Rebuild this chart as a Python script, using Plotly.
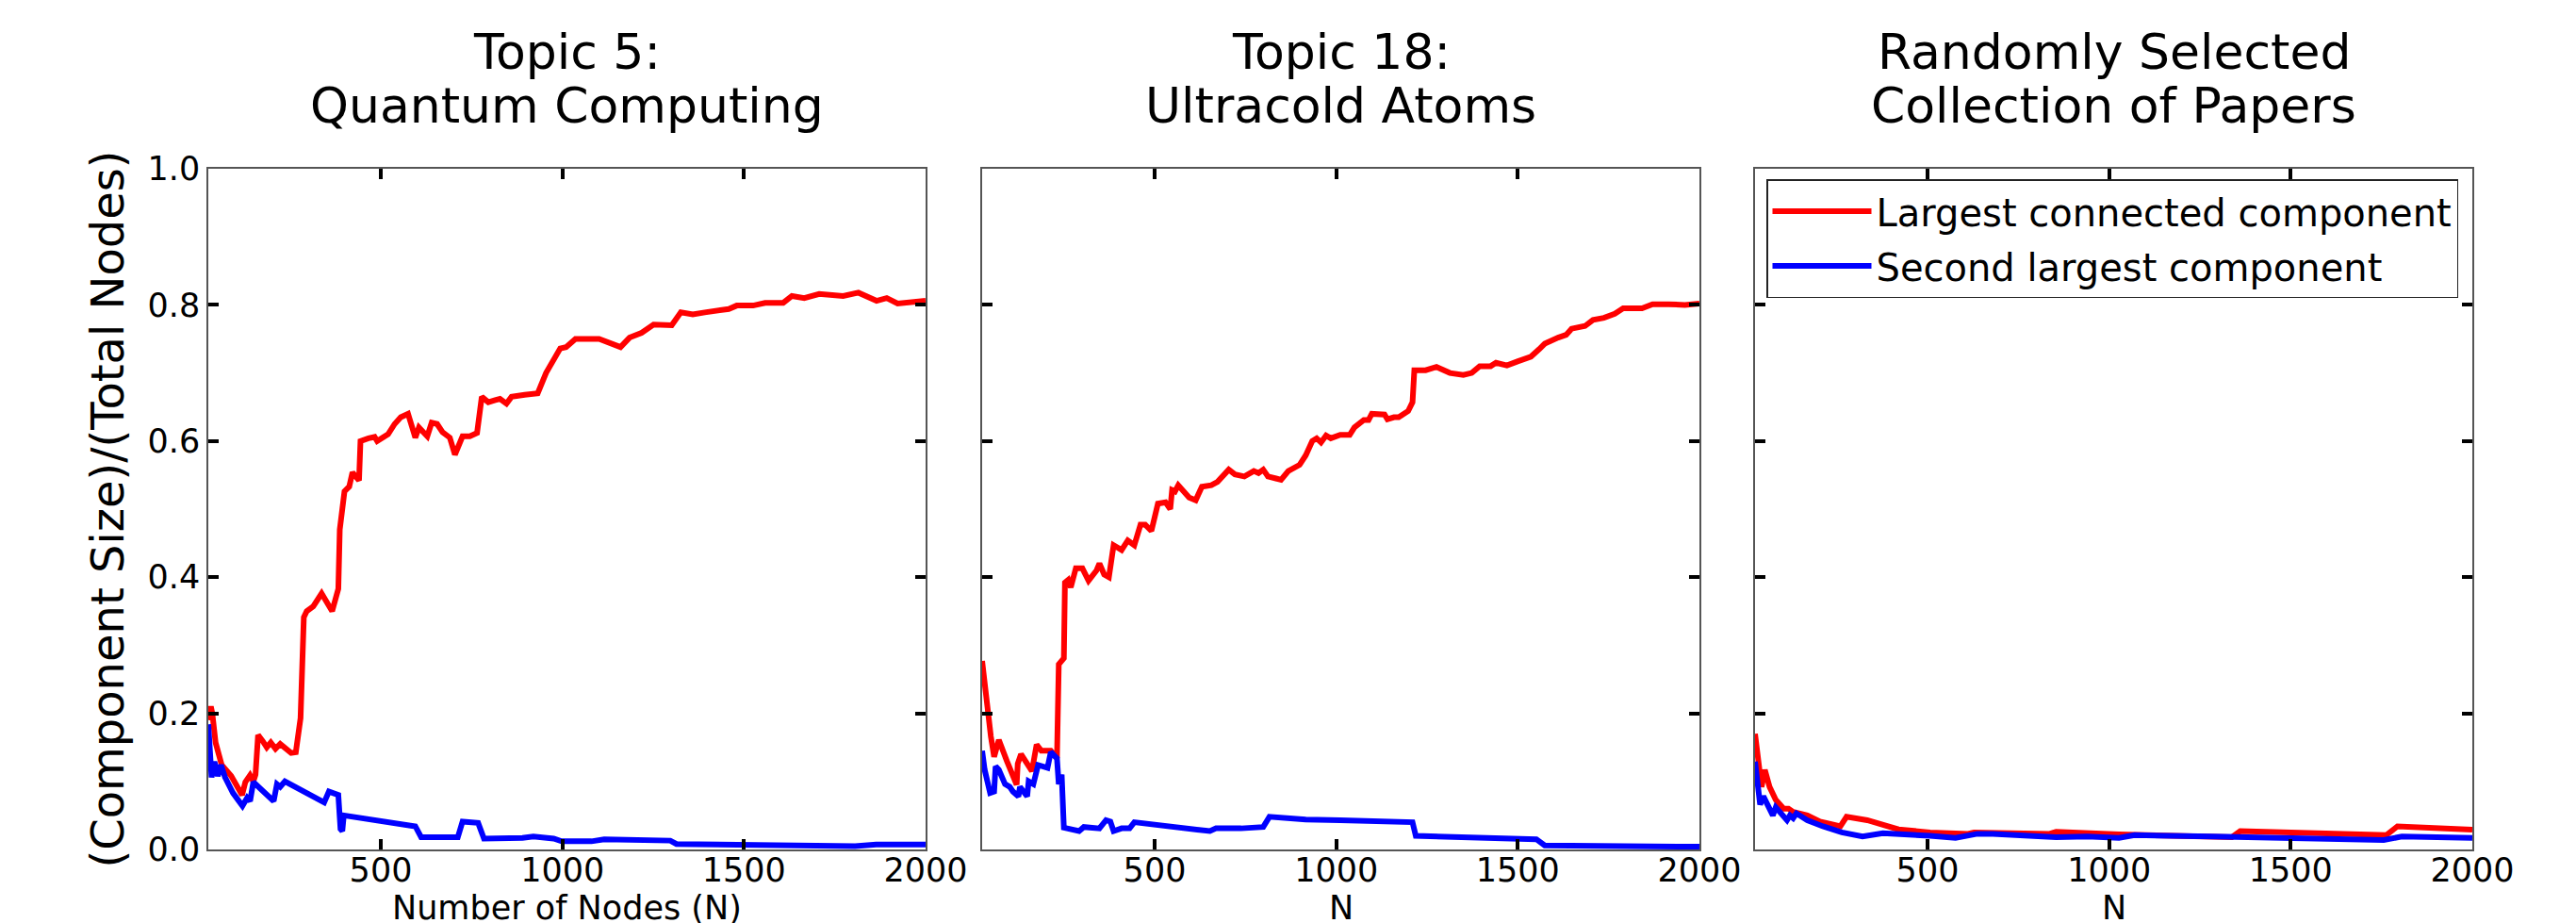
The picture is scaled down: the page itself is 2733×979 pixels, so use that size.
import plotly.graph_objects as go

# ---------------- data ----------------
# Topic 5: Quantum Computing
t5_n_largest = [25, 32, 36, 45, 62, 88, 118, 127, 140, 149, 155, 162, 175, 186, 197, 210, 223, 240, 253, 266,
                279, 288, 296, 314, 337, 366, 383, 387, 392, 400, 413, 422, 440, 444, 466, 483, 490, 520, 538, 555,
                575, 585, 595, 605, 615, 628, 640, 655, 670, 690, 704, 712, 725, 745, 765, 778, 796, 815, 828, 846,
                860, 896, 932, 955, 978, 994, 1010, 1036, 1101, 1135, 1160, 1185, 1218, 1251, 1301, 1326, 1359,
                1392, 1458, 1480, 1525, 1558, 1608, 1632, 1666, 1707, 1773, 1815, 1865, 1893, 1923, 2000]
t5_largest = [0.19, 0.21, 0.20, 0.157, 0.124, 0.108, 0.080, 0.099, 0.109, 0.100, 0.110, 0.168, 0.159, 0.150,
              0.157, 0.148, 0.155, 0.146, 0.142, 0.143, 0.193, 0.341, 0.350, 0.357, 0.376, 0.350, 0.383, 0.470,
              0.498, 0.526, 0.533, 0.554, 0.542, 0.600, 0.604, 0.606, 0.600, 0.610, 0.625, 0.635, 0.640, 0.625,
              0.605, 0.620, 0.615, 0.607, 0.627, 0.625, 0.613, 0.605, 0.580, 0.592, 0.607, 0.607, 0.612, 0.665,
              0.657, 0.660, 0.662, 0.655, 0.665, 0.668, 0.670, 0.700, 0.720, 0.736, 0.738, 0.750, 0.750, 0.743,
              0.738, 0.752, 0.759, 0.771, 0.770, 0.789, 0.786, 0.789, 0.794, 0.799, 0.799, 0.803, 0.803, 0.813,
              0.810, 0.816, 0.813, 0.818, 0.806, 0.810, 0.802, 0.806]
t5_n_second = [25, 34, 42, 51, 60, 71, 93, 119, 132, 140, 149, 205, 214, 223, 236, 292, 344, 357, 383, 389, 394,
               398, 595, 611, 660, 673, 712, 725, 768, 784, 864, 890, 920, 976, 998, 1080, 1115, 1297, 1314, 1598,
               1806, 1864, 2000]
t5_second = [0.184, 0.106, 0.129, 0.108, 0.124, 0.106, 0.083, 0.064, 0.076, 0.071, 0.099, 0.071, 0.096, 0.092,
             0.100, 0.083, 0.069, 0.085, 0.080, 0.030, 0.027, 0.050, 0.034, 0.018, 0.018, 0.020, 0.018, 0.041,
             0.039, 0.016, 0.016, 0.017, 0.019, 0.016, 0.012, 0.012, 0.015, 0.013, 0.008, 0.0074, 0.005, 0.0074,
             0.0074]

# Topic 18: Ultracold Atoms
t18_n_largest = [25, 36, 49, 58, 71, 93, 114, 120, 123, 132, 162, 175, 188, 214, 231, 236, 250, 253, 262, 269,
                 283, 301, 318, 340, 348, 361, 374, 387, 409, 426, 444, 461, 474, 491, 509, 530, 543, 548, 556, 565,
                 595, 613, 630, 656, 673, 704, 721, 747, 773, 786, 799, 812, 834, 848, 868, 899, 916, 934, 946, 958,
                 972, 985, 1011, 1037, 1050, 1076, 1089, 1098, 1133, 1141, 1159, 1172, 1198, 1210, 1215, 1246,
                 1276, 1313, 1350, 1373, 1395, 1425, 1440, 1470, 1499, 1536, 1559, 1574, 1611, 1633, 1648, 1685,
                 1707, 1737, 1767, 1790, 1842, 1871, 1915, 1960, 2000]
t18_largest = [0.277, 0.221, 0.166, 0.136, 0.161, 0.130, 0.101, 0.095, 0.126, 0.140, 0.115, 0.154, 0.145, 0.145,
               0.134, 0.272, 0.281, 0.392, 0.396, 0.385, 0.413, 0.413, 0.395, 0.410, 0.420, 0.404, 0.400, 0.447,
               0.440, 0.454, 0.447, 0.477, 0.477, 0.468, 0.508, 0.510, 0.500, 0.528, 0.526, 0.535, 0.517, 0.513,
               0.533, 0.535, 0.540, 0.558, 0.551, 0.548, 0.556, 0.553, 0.558, 0.548, 0.545, 0.543, 0.556, 0.565,
               0.579, 0.600, 0.604, 0.598, 0.608, 0.604, 0.609, 0.609, 0.620, 0.631, 0.631, 0.640, 0.639, 0.632,
               0.635, 0.635, 0.644, 0.657, 0.704, 0.704, 0.709, 0.700, 0.697, 0.700, 0.710, 0.710, 0.715, 0.711,
               0.717, 0.724, 0.735, 0.743, 0.752, 0.756, 0.765, 0.769, 0.778, 0.781, 0.787, 0.795, 0.795, 0.801,
               0.801, 0.800, 0.802]
t18_n_second = [25, 32, 47, 58, 62, 71, 88, 101, 110, 125, 129, 140, 149, 153, 166, 179, 205, 214, 231, 236, 244,
                250, 292, 305, 348, 366, 378, 387, 409, 431, 444, 652, 669, 738, 764, 799, 816, 916, 1011, 1089,
                1159, 1210, 1219, 1551, 1574, 2000]
t18_second = [0.145, 0.117, 0.083, 0.085, 0.122, 0.117, 0.096, 0.092, 0.085, 0.078, 0.092, 0.083, 0.078, 0.100,
              0.096, 0.124, 0.120, 0.143, 0.134, 0.096, 0.110, 0.032, 0.027, 0.033, 0.031, 0.043, 0.041, 0.027,
              0.031, 0.031, 0.040, 0.027, 0.031, 0.031, 0.032, 0.033, 0.048, 0.044, 0.043, 0.042, 0.041, 0.040,
              0.020, 0.015, 0.006, 0.004]

# Randomly selected collection of papers
rnd_n_largest = [25, 35, 43, 52, 65, 82, 104, 117, 130, 169, 204, 260, 277, 334, 420, 507, 611, 628, 836, 854,
                 1027, 1338, 1361, 1763, 1794, 2000]
rnd_largest = [0.170, 0.133, 0.092, 0.117, 0.092, 0.073, 0.060, 0.060, 0.055, 0.050, 0.041, 0.034, 0.048, 0.043,
               0.0295, 0.025, 0.023, 0.025, 0.023, 0.026, 0.022, 0.018, 0.027, 0.021, 0.034, 0.029]
rnd_n_second = [25, 30, 39, 48, 61, 74, 82, 95, 113, 121, 130, 139, 169, 212, 264, 321, 351, 377, 507, 577, 637,
                680, 854, 940, 1027, 1070, 1287, 1756, 1806, 2000]
rnd_second = [0.129, 0.101, 0.066, 0.078, 0.062, 0.050, 0.062, 0.053, 0.043, 0.050, 0.046, 0.053, 0.043, 0.034,
              0.025, 0.019, 0.021, 0.024, 0.020, 0.017, 0.023, 0.023, 0.018, 0.019, 0.017, 0.021, 0.019, 0.014,
              0.019, 0.017]

panel_titles = [("Topic 5:", "Quantum Computing"),
                ("Topic 18:", "Ultracold Atoms"),
                ("Randomly Selected", "Collection of Papers")]
x_titles = ["Number of Nodes (N)", "N", "N"]
y_title = "(Component Size)/(Total Nodes)"
legend_names = ["Largest connected component", "Second largest component"]
x_tickvals = [500, 1000, 1500, 2000]
y_tickvals = [0.0, 0.2, 0.4, 0.6, 0.8, 1.0]

# ---------------- figure ----------------
W, H = 2733, 979
FONT = "DejaVu Sans"
RED, BLUE = "#ff0000", "#0000ff"
L, R, T, B = 213, 2615, 171, 893          # plot-area box in pixels
PW, PH = R - L, B - T


def px_x(x):   # pixel -> paper (plot-area) x
    return (x - L) / PW


def px_y(y):   # pixel -> paper (plot-area) y
    return (B - y) / PH


panels = [
    (t5_n_largest, t5_largest, t5_n_second, t5_second),
    (t18_n_largest, t18_largest, t18_n_second, t18_second),
    (rnd_n_largest, rnd_largest, rnd_n_second, rnd_second),
]
px_edges = [(213, 974), (1034, 1795), (1854, 2615)]
x_domains = [(px_x(a), px_x(b)) for a, b in px_edges]

fig = go.Figure()
for i, (nl, vl, ns, vs) in enumerate(panels):
    ax = "" if i == 0 else str(i + 1)
    show = i == 2
    fig.add_trace(go.Scatter(x=nl, y=vl, mode="lines", line=dict(color=RED, width=6),
                             name=legend_names[0], legendgroup="a", showlegend=show,
                             xaxis="x" + ax, yaxis="y" + ax))
    fig.add_trace(go.Scatter(x=ns, y=vs, mode="lines", line=dict(color=BLUE, width=6),
                             name=legend_names[1], legendgroup="b", showlegend=show,
                             xaxis="x" + ax, yaxis="y" + ax))

axis_common = dict(showline=True, linecolor="#555555", linewidth=1.5, mirror="ticks",
                   ticks="inside", ticklen=11, tickwidth=4, tickcolor="black",
                   showgrid=False, zeroline=False, automargin=False,
                   tickfont=dict(family=FONT, size=35, color="black"))

layout = dict(width=W, height=H, margin=dict(l=L, r=W - R, t=T, b=H - B, autoexpand=False),
              paper_bgcolor="white", plot_bgcolor="white", template="none",
              font=dict(family=FONT, color="black"))
for i in range(3):
    ax = "" if i == 0 else str(i + 1)
    layout["xaxis" + ax] = dict(axis_common, domain=list(x_domains[i]), range=[25, 2000],
                                tickvals=x_tickvals, ticktext=[str(v) for v in x_tickvals],
                                anchor="y" + ax, ticklabelstandoff=-10)
    ydict = dict(axis_common, domain=[0, 1], range=[0, 1], tickvals=y_tickvals,
                 tickformat=".1f", anchor="x" + ax, showticklabels=(i == 0))
    if i == 0:
        ydict["title"] = dict(text=y_title, font=dict(family=FONT, size=48), standoff=10)
    layout["yaxis" + ax] = ydict

annotations = []
for i, (l1, l2) in enumerate(panel_titles):
    xc = px_x((px_edges[i][0] + px_edges[i][1]) / 2)
    for txt, yc in ((l1, 47), (l2, 104)):
        annotations.append(dict(text=txt, x=xc, y=px_y(yc), xref="paper", yref="paper",
                                xanchor="center", yanchor="middle", showarrow=False,
                                font=dict(family=FONT, size=52, color="black")))
    # x-axis title below each panel
    annotations.append(dict(text=x_titles[i], x=xc, y=px_y(976), xref="paper", yref="paper",
                            xanchor="center", yanchor="bottom", showarrow=False, borderpad=0,
                            font=dict(family=FONT, size=35, color="black")))
layout["annotations"] = annotations
layout["legend"] = dict(x=px_x(1866), y=px_y(182), xanchor="left", yanchor="top",
                        bgcolor="white", bordercolor="#222222", borderwidth=1.5,
                        font=dict(family=FONT, size=40, color="black"),
                        tracegroupgap=3, itemwidth=105)
fig.update_layout(layout)
fig.write_html("out.html")
